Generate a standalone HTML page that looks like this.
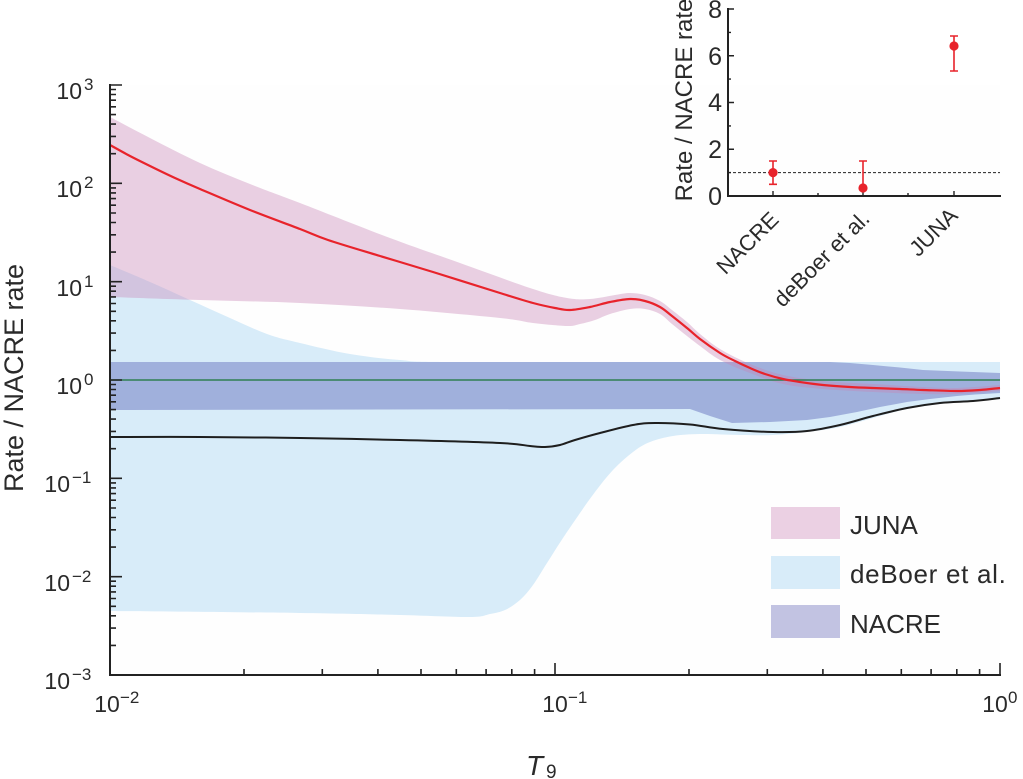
<!DOCTYPE html>
<html>
<head>
<meta charset="utf-8">
<style>
html,body{margin:0;padding:0;background:#fff;}
svg{display:block;font-family:"Liberation Sans",sans-serif;}
text{fill:#2a2a2a;}
</style>
</head>
<body>
<svg id="chart" width="1023" height="779" viewBox="0 0 1023 779" xmlns="http://www.w3.org/2000/svg">
<!-- plot background -->
<rect x="110" y="85" width="890" height="590" fill="#fefefe"/>

<!-- deBoer band -->
<path id="deboer" fill="#d8ecf9" d="M110,265 L150,282 L190,300 L230,318 L267,334 L300,343 L350,354 L400,360 L450,362 L1000,362 L1000,399 L973,401 L940,404 L907,409 L873,418 L840,427 L807,432 L773,435 L740,435 L700,434 L673,436 L650,442 L633,452 L613,470 L595,492 L580,513 L563,538 L547,563 L533,585 L520,600 L505,610 L490,614 L470,617 L400,615 L300,613 L110,611 Z"/>

<!-- NACRE band -->
<path id="nacre" fill="#a0b0dc" d="M110,362 L830,362 L850,363 L873,365 L900,367.5 L923,370 L960,371.5 L1000,373 L1000,393 L975,394.5 L957,396 L930,399 L907,402 L880,407 L857,412 L830,417 L807,420 L770,422 L732,423 L710,416 L690,409 L110,410 Z"/>

<!-- JUNA band -->
<path id="juna" fill="rgb(200,130,180)" fill-opacity="0.375" d="M110,117 L150,138 L200,163 L250,184 L300,203 L390,238 L460,263 L533,289 L567,298 L590,299 L615,295 L630,293 L645,295 L660,301 L672,310 L687,323 L700,335 L720,350 L750,364 L783,375 L823,381 L873,384 L923,387 L957,388 L1000,385 L1000,391 L957,394 L923,394 L873,392 L823,389 L783,384 L750,373 L720,360 L700,346 L687,336 L672,324 L660,314 L645,309 L630,308 L610,314 L600,319 L580,324 L567,326 L533,323 L500,318 L400,309 L300,303 L200,300 L110,297 Z"/>

<!-- green NACRE line -->
<line x1="110" y1="380" x2="1000" y2="380" stroke="#2f7f52" stroke-width="1.6"/>

<!-- black deBoer line -->
<path id="blk" fill="none" stroke="#1e1e1e" stroke-width="2" stroke-linejoin="round" d="M110,437 L200,437 L300,438 L400,440 L500,443 L530,446 L545,447 L560,445 L575,440 L600,433 L633,425 L655,423 L680,424 L700,425 L723,429 L773,432 L807,431 L840,426 L873,417 L907,408 L940,403 L973,401 L1000,398"/>

<!-- red JUNA line -->
<path id="red" fill="none" stroke="#e8232b" stroke-width="2.2" stroke-linejoin="round" d="M110,145 L130,156 L150,166 L175,178 L200,189 L250,210 L300,229 L328,240 L380,256 L433,272 L500,293 L533,303 L555,308 L570,310 L590,307 L610,302 L630,299 L645,301 L660,307 L672,315 L687,328 L700,340 L720,355 L735,362 L750,368 L765,374 L783,379 L800,382 L823,385 L850,387 L873,388 L900,389 L923,391 L957,391 L980,390 L1000,388"/>

<!-- axes -->
<path fill="none" stroke="#222" stroke-width="2" d="M110,84 L110,675 L1001,675"/>
<!-- y ticks -->
<path fill="none" stroke="#222" stroke-width="1.6" d="
M110,675h12 M110,576.7h12 M110,478.3h12 M110,380h12 M110,281.7h12 M110,183.3h12 M110,85h12
M110,645.4h6 M110,628.1h6 M110,615.8h6 M110,606.3h6 M110,598.5h6 M110,591.9h6 M110,586.2h6 M110,581.2h6
M110,547.1h6 M110,529.8h6 M110,517.5h6 M110,508h6 M110,500.2h6 M110,493.6h6 M110,487.9h6 M110,482.9h6
M110,448.7h6 M110,431.4h6 M110,419.1h6 M110,409.6h6 M110,401.8h6 M110,395.2h6 M110,389.5h6 M110,384.5h6
M110,350.4h6 M110,333.1h6 M110,320.8h6 M110,311.3h6 M110,303.5h6 M110,296.9h6 M110,291.2h6 M110,286.2h6
M110,252.1h6 M110,234.8h6 M110,222.5h6 M110,213h6 M110,205.2h6 M110,198.6h6 M110,192.9h6 M110,187.9h6
M110,153.7h6 M110,136.4h6 M110,124.1h6 M110,114.6h6 M110,106.8h6 M110,100.2h6 M110,94.5h6 M110,89.5h6
"/>
<!-- x ticks -->
<path fill="none" stroke="#222" stroke-width="1.6" d="
M555,675v-12 M1000,675v-12
M244,675v-6 M322.3,675v-6 M377.9,675v-6 M421,675v-6 M456.3,675v-6 M486.1,675v-6 M511.8,675v-6 M534.6,675v-6
M689,675v-6 M767.3,675v-6 M822.9,675v-6 M866,675v-6 M901.3,675v-6 M931.1,675v-6 M956.8,675v-6 M979.6,675v-6
"/>

<!-- y tick labels -->
<g font-size="23">
<text x="82" y="99" text-anchor="end">10</text>
<text x="82" y="197" text-anchor="end">10</text>
<text x="82" y="296" text-anchor="end">10</text>
<text x="82" y="394" text-anchor="end">10</text>
<text x="70" y="492" text-anchor="end">10</text>
<text x="70" y="591" text-anchor="end">10</text>
<text x="70" y="689" text-anchor="end">10</text>
</g>
<g font-size="17">
<text x="84" y="90">3</text>
<text x="84" y="188">2</text>
<text x="84" y="287">1</text>
<text x="84" y="385">0</text>
<text x="72" y="483">−1</text>
<text x="72" y="582">−2</text>
<text x="72" y="680">−3</text>
</g>

<!-- x tick labels -->
<g font-size="23" text-anchor="middle">
<text x="107" y="712">10</text>
<text x="555" y="712">10</text>
<text x="995" y="712">10</text>
</g>
<g font-size="17">
<text x="120" y="703">−2</text>
<text x="568" y="703">−1</text>
<text x="1008" y="703">0</text>
</g>

<!-- axis labels -->
<text x="23" y="378" font-size="27" text-anchor="middle" transform="rotate(-90 23 378)">Rate / NACRE rate</text>
<text x="526" y="775" font-size="28" font-style="italic">T</text>
<text x="546" y="778" font-size="19">9</text>

<!-- legend -->
<rect x="771" y="507" width="69" height="32" fill="#ebd0e3"/>
<rect x="771" y="556" width="69" height="33" fill="#d8ecf9"/>
<rect x="771" y="605" width="69" height="33" fill="#c2c3e2"/>
<g font-size="26">
<text x="850" y="534">JUNA</text>
<text x="850" y="583" letter-spacing="0.7">deBoer et al.</text>
<text x="850" y="633">NACRE</text>
</g>

<!-- INSET -->
<line x1="728" y1="172.6" x2="1000" y2="172.6" stroke="#222" stroke-width="1" stroke-dasharray="3,2"/>
<path fill="none" stroke="#222" stroke-width="2" d="M728,8 L728,196 L1001,196"/>
<path fill="none" stroke="#222" stroke-width="1.4" d="
M728,196h6 M728,149.25h6 M728,102.5h6 M728,55.75h6 M728,9h6
M728,172.6h3 M728,125.9h3 M728,79.1h3 M728,32.4h3
M773,196v-5 M863,196v-5 M954,196v-5 M818,196v-3 M908,196v-3
"/>
<g font-size="25" text-anchor="end">
<text x="722" y="205">0</text>
<text x="722" y="158">2</text>
<text x="722" y="111">4</text>
<text x="722" y="65">6</text>
<text x="722" y="18">8</text>
</g>
<text x="692" y="100" font-size="24" text-anchor="middle" transform="rotate(-90 692 100)">Rate / NACRE rate</text>

<!-- inset error bars -->
<g stroke="#e8232b" stroke-width="1.6" fill="none">
<path d="M773,161 V184.3 M769,161 h8 M769,184.3 h8"/>
<path d="M863,161 V188 M859,161 h8"/>
<path d="M954,36 V71 M950,36 h8 M950,71 h8"/>
</g>
<g fill="#e8232b">
<circle cx="773" cy="172.6" r="4.6"/>
<circle cx="863" cy="188" r="4.6"/>
<circle cx="954" cy="46" r="4.6"/>
</g>

<!-- inset category labels -->
<g font-size="22" text-anchor="end">
<text x="780" y="221" transform="rotate(-45 780 221)">NACRE</text>
<text x="871" y="220" transform="rotate(-45 871 220)">deBoer et al.</text>
<text x="959" y="217" transform="rotate(-45 959 217)">JUNA</text>
</g>
</svg>
<script>
(function(){
function cr(p){
  var d="";
  for(var i=0;i<p.length-1;i++){
    var p0=p[i>0?i-1:i],p1=p[i],p2=p[i+1],p3=p[i+2<p.length?i+2:i+1];
    var c1x=p1[0]+(p2[0]-p0[0])/6,c1y=p1[1]+(p2[1]-p0[1])/6;
    var c2x=p2[0]-(p3[0]-p1[0])/6,c2y=p2[1]-(p3[1]-p1[1])/6;
    d+=" C"+c1x.toFixed(1)+","+c1y.toFixed(1)+" "+c2x.toFixed(1)+","+c2y.toFixed(1)+" "+p2[0]+","+p2[1];
  }
  return d;
}
function line(p){return "M"+p[0][0]+","+p[0][1]+cr(p);}
function band(u,l){return "M"+u[0][0]+","+u[0][1]+cr(u)+" L"+l[0][0]+","+l[0][1]+cr(l)+" Z";}
function set(id,d){var e=document.getElementById(id);if(e)e.setAttribute("d",d);}
try{
set("red",line([[110,145],[130,156],[150,166],[175,178],[200,189],[250,210],[300,229],[328,240],[380,256],[433,272],[500,293],[533,303],[555,308],[570,310],[590,307],[610,302],[630,299],[645,301],[660,307],[672,316],[687,328],[700,339],[720,353],[735,361],[750,368],[765,374],[783,379],[800,382],[823,385],[850,387],[873,388],[900,389],[923,390],[957,391],[980,390],[1000,388]]));
set("blk",line([[110,437],[200,437],[300,438],[400,440],[500,443],[530,446],[545,447],[560,445],[575,440],[600,433],[633,425],[655,423],[690,424.5],[723,429],[773,432],[807,431],[840,425],[873,416],[907,408],[940,403],[973,401],[1000,398]]));
set("juna",band([[110,117],[150,138],[200,163],[250,184],[300,203],[390,238],[460,263],[533,289],[567,298],[590,299],[615,295],[630,293],[645,295],[660,301],[672,310],[687,322],[700,334],[720,349],[750,364],[783,375],[823,381],[873,384],[923,387],[957,388],[1000,385]],
[[1000,391],[957,394],[923,394],[873,392],[823,389],[783,384],[750,373],[720,360],[700,346],[687,336],[672,324],[660,314],[645,309],[630,309],[610,314],[595,320],[580,324],[567,326],[533,323],[500,318],[400,309],[300,303],[200,300],[110,297]]));
set("deboer",band([[110,265],[150,282],[190,300],[230,318],[267,334],[300,343],[350,354],[400,360],[450,362],[700,362],[1000,362]],
[[1000,399],[973,401],[940,404],[907,409],[873,418],[840,427],[807,432],[773,435],[740,435],[700,434],[673,436],[650,442],[633,452],[613,470],[595,492],[580,513],[563,538],[547,563],[533,585],[520,600],[505,610],[490,614],[470,617],[400,615],[300,613],[110,611]]));
}catch(e){}
})();
</script>
</body>
</html>
